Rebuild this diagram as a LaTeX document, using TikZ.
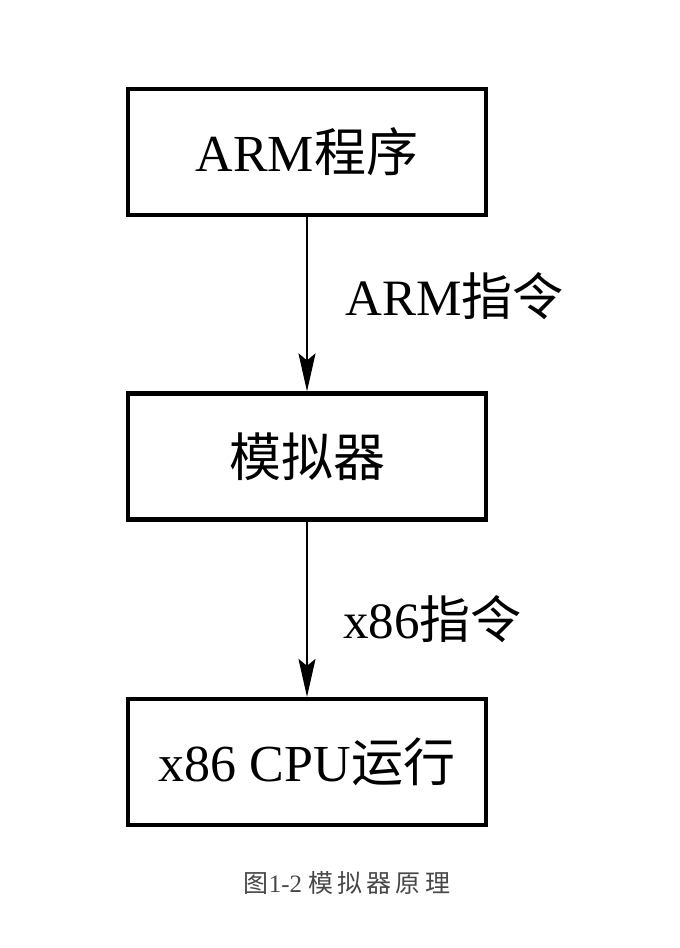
\documentclass[tikz,border=0pt]{standalone}
\usepackage{fontspec}
\setmainfont{Liberation Serif}
\newfontfamily\cjk{Noto Sans CJK SC}
\usetikzlibrary{arrows.meta}
\begin{document}
\begin{tikzpicture}[x=1pt,y=1pt,
  box/.style={draw, line width=4.2pt, minimum width=358pt, minimum height=126pt, inner sep=0pt, font=\fontsize{52}{60}\selectfont},
  flow/.style={line width=2.2pt, -{Stealth[length=38pt,width=17pt,inset=7pt]}},
  lbl/.style={anchor=base west, inner sep=0pt, font=\fontsize{51}{60}\selectfont},
  captext/.style={anchor=center, inner sep=0pt, text=black!72, font=\fontsize{25}{30}\selectfont}]
\useasboundingbox (0,0) rectangle (680,-948);
\node[box] (prog) at (307,-152) {ARM{\cjk 程序}};
\node[box] (emu) at (307,-456.5) {{\cjk 模拟器}};
\node[box] (cpu) at (307,-762) {x86 CPU{\cjk 运行}};
\draw[flow] (prog.south) -- (emu.north);
\draw[flow] (emu.south) -- (cpu.north);
\node[lbl] (l1) at (345,-315) {ARM{\cjk 指令}};
\node[lbl] (l2) at (343,-638) {x86{\cjk 指令}};
\node[captext] (caption) at (347,-883) {{\cjk 图}1-2 {\cjk 模\,拟\,器\,原\,理}};
\end{tikzpicture}
\end{document}
